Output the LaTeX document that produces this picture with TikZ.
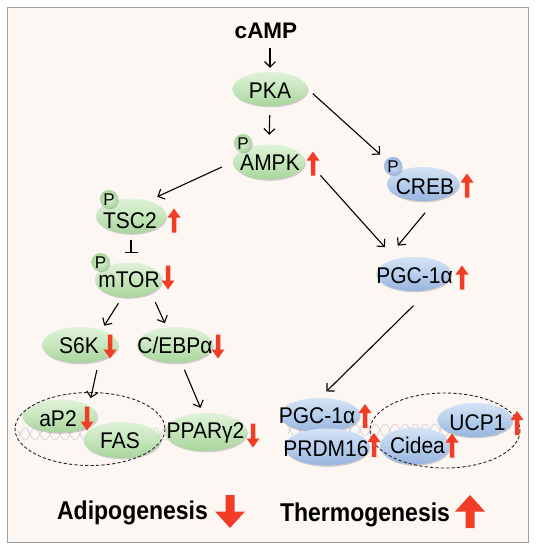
\documentclass[tikz,border=0pt]{standalone}
\usepackage{fontspec}
\setmainfont{Liberation Sans}
\usetikzlibrary{shapes.geometric,arrows.meta,shadows}
\definecolor{bgc}{HTML}{FDF7F4}
\definecolor{frm}{HTML}{A0A0A0}
\definecolor{redA}{HTML}{F23D26}
\definecolor{gTop}{HTML}{DFF2D8}
\definecolor{gMid}{HTML}{C6E6BC}
\definecolor{gBot}{HTML}{A8D49B}
\definecolor{bTop}{HTML}{D5E3F5}
\definecolor{bMid}{HTML}{B7CEEC}
\definecolor{bBot}{HTML}{98B5DE}
\definecolor{dnaC}{HTML}{D2D2D2}
\newcommand\vst[1]{\scalebox{1}[1.08]{#1}}
\begin{document}
\begin{tikzpicture}[x=1pt,y=-1pt,
  shad/.style={drop shadow={shadow xshift=0.8pt,shadow yshift=-1.3pt,opacity=0.25,fill=black!70}},
  gE/.style={ellipse, inner sep=0pt, shad, top color=gTop, bottom color=gBot, middle color=gMid},
  bE/.style={ellipse, inner sep=0pt, shad, top color=bTop, bottom color=bBot, middle color=bMid},
  gP/.style={circle, inner sep=0pt, minimum size=18pt, shad, inner color=gTop, outer color=gBot, font=\fontsize{17}{19}\selectfont, text height=12.2pt, text depth=0pt},
  bP/.style={circle, inner sep=0pt, minimum size=18pt, shad, inner color=bTop, outer color=bBot, font=\fontsize{17}{19}\selectfont, text height=12.2pt, text depth=0pt},
  lbl/.style={inner sep=0pt, font=\fontsize{21}{25}\selectfont, text height=16.2pt, text depth=0pt},
  bigl/.style={inner sep=0pt, font=\bfseries\fontsize{23}{28}\selectfont, text height=18.4pt, text depth=0pt},
  arr/.style={line width=1.1pt, -{Straight Barb[length=5.5pt,width=11pt,line width=1.1pt]}},
  dashE/.style={line width=0.9pt, black!85, dash pattern=on 3.2pt off 2.2pt},
  dnaL/.style={dnaC, line width=0.7pt},
  upR/.pic={\fill[redA] (0,-12)--(6.5,-3)--(2.25,-3)--(2.25,12)--(-2.25,12)--(-2.25,-3)--(-6.5,-3)--cycle;},
  dnR/.pic={\fill[redA] (0,12)--(6.5,3)--(2.25,3)--(2.25,-12)--(-2.25,-12)--(-2.25,3)--(-6.5,3)--cycle;},
  bigUp/.pic={\fill[redA] (0,-16.5)--(15,0)--(4.5,0)--(4.5,16.5)--(-4.5,16.5)--(-4.5,0)--(-15,0)--cycle;},
  bigDn/.pic={\fill[redA] (0,16.5)--(15,0)--(4.5,0)--(4.5,-16.5)--(-4.5,-16.5)--(-4.5,0)--(-15,0)--cycle;}
]
\useasboundingbox (0,0) rectangle (539,550);
\fill[white] (0,0) rectangle (539,550);
\draw[frm, fill=bgc, line width=1pt] (7,7) rectangle (528,542);

% faint DNA strands
\draw[dnaL, domain=18:168, samples=120] plot (\x, {434+6*sin(\x*18)});
\draw[dnaL, domain=18:168, samples=120] plot (\x, {434-6*sin(\x*18)});
\draw[dnaL, domain=288:500, samples=160] plot (\x, {430+6*sin(\x*18)});
\draw[dnaL, domain=288:500, samples=160] plot (\x, {430-6*sin(\x*18)});

% ellipses
\node[gE, minimum width=75pt, minimum height=34pt] (PKA) at (270,89) {};
\node[gE, minimum width=72pt, minimum height=35pt] (AMPK) at (269,162) {};
\node[gE, minimum width=70pt, minimum height=35pt] (TSC2) at (131,216) {};
\node[gE, minimum width=67pt, minimum height=35pt] (mTOR) at (128.5,280) {};
\node[gE, minimum width=76pt, minimum height=36pt] (S6K) at (80,345) {};
\node[gE, minimum width=76pt, minimum height=36pt] (CEBP) at (175,345) {};
\node[gE, minimum width=75pt, minimum height=33pt] (aP2) at (60,416) {};
\node[gE, minimum width=77pt, minimum height=36pt] (FAS) at (122,440) {};
\node[gE, minimum width=82pt, minimum height=38pt] (PPAR) at (206,432) {};
\node[bE, minimum width=72pt, minimum height=34pt] (CREB) at (423,184) {};
\node[bE, minimum width=75pt, minimum height=34pt] (PGC) at (414,274) {};
\node[bE, minimum width=80pt, minimum height=34pt] (PGCb) at (320,415) {};
\node[bE, minimum width=85pt, minimum height=37pt] (PRDM) at (327,447) {};
\node[bE, minimum width=70pt, minimum height=37pt] (Cidea) at (415,446) {};
\node[bE, minimum width=75pt, minimum height=34pt] (UCP) at (475,420) {};

% dashed groups
\draw[dashE] (90,429) ellipse [x radius=75, y radius=36.5];
\draw[dashE] (445,430.5) ellipse [x radius=75, y radius=37.5];

% phospho circles
\node[gP] (pAMPK) at (243,143) {P};
\node[gP] (pTSC) at (109,199) {P};
\node[gP] (pmTOR) at (100.5,262) {P};
\node[bP] (pCREB) at (393,166) {P};

% labels
\node[inner sep=0pt, font=\bfseries\fontsize{22.5}{26}\selectfont, text height=16.1pt, text depth=0pt] (cAMP) at (266,30.5) {cAMP};
\node[lbl] (tPKA) at (270,90) {\vst{PKA}};
\node[lbl] (tAMPK) at (270,162) {\vst{AMPK}};
\node[lbl] (tTSC) at (130,220) {\vst{TSC2}};
\node[lbl] (tmTOR) at (129,279.5) {\vst{mTOR}};
\node[lbl] (tS6K) at (79,345.5) {\vst{S6K}};
\node[lbl] (tCEBP) at (175,345.5) {\vst{C/EBPα}};
\node[lbl] (taP2) at (58,418.5) {\vst{aP2}};
\node[lbl] (tFAS) at (120,440) {\vst{FAS}};
\node[lbl] (tPPAR) at (205.5,430.5) {\vst{PPARγ2}};
\node[lbl] (tCREB) at (425,186) {\vst{CREB}};
\node[lbl] (tPGC) at (414.5,275.5) {\vst{PGC-1α}};
\node[lbl] (tPGCb) at (317,415.5) {\vst{PGC-1α}};
\node[lbl] (tPRDM) at (326,448.5) {\vst{PRDM16}};
\node[lbl] (tCidea) at (417.5,445) {\vst{Cidea}};
\node[lbl] (tUCP) at (477.5,422.5) {\vst{UCP1}};
\node[bigl] (adipo) at (132.5,510) {\scalebox{1}[1.12]{Adipogenesis}};
\node[bigl] (thermo) at (365,512.5) {\scalebox{1}[1.12]{Thermogenesis}};

% red indicator arrows
\pic at (313,163.5) {upR};
\pic at (174,220.5) {upR};
\pic at (168,277.5) {dnR};
\pic at (110,346.5) {dnR};
\pic at (218,346.5) {dnR};
\pic at (87,418.5) {dnR};
\pic at (253,435.5) {dnR};
\pic at (467,185.5) {upR};
\pic at (462,277.5) {upR};
\pic at (365,416) {upR};
\pic at (374,445) {upR};
\pic at (452,445.5) {upR};
\pic at (517,423) {upR};
\pic at (230,511.5) {bigDn};
\pic at (470,511.5) {bigUp};

% connectors
\draw[arr, shorten <=9.5pt, shorten >=4pt] (PKA.north |- cAMP.south) -- (PKA.north);
\draw[arr, shorten <=9pt, shorten >=9.5pt] (PKA.south) -- (AMPK.north);
\draw[arr, shorten <=12pt, shorten >=9.5pt] (AMPK.west) -- (TSC2.41);
\draw[line width=1.1pt, -{Bar[width=13pt,line width=1.1pt]}, shorten <=6.5pt, shorten >=9.5pt] (TSC2.south) -- (TSC2.south |- mTOR.north);
\draw[arr, shorten <=7pt, shorten >=5pt] (mTOR.250) -- (S6K.35);
\draw[arr, shorten <=10pt, shorten >=4.5pt] (mTOR.330) -- (CEBP.115);
\draw[arr, shorten <=9.5pt, shorten >=7.5pt] (S6K.320) -- (aP2.20);
\draw[arr, shorten <=7.5pt, shorten >=5.5pt] (CEBP.290) -- (PPAR.100);
\draw[arr, shorten <=6.8pt, shorten >=8pt] (PKA.east) -- (pCREB);
\draw[arr, shorten <=26pt, shorten >=16pt] (AMPK.10) -- (PGC.141);
\draw[arr, shorten <=16.5pt, shorten >=25.5pt] (CREB.308) -- (PGC.165);
\draw[arr, shorten <=22.7pt, shorten >=9pt] (PGC.315) -- (PGCb.north);
\end{tikzpicture}
\end{document}
